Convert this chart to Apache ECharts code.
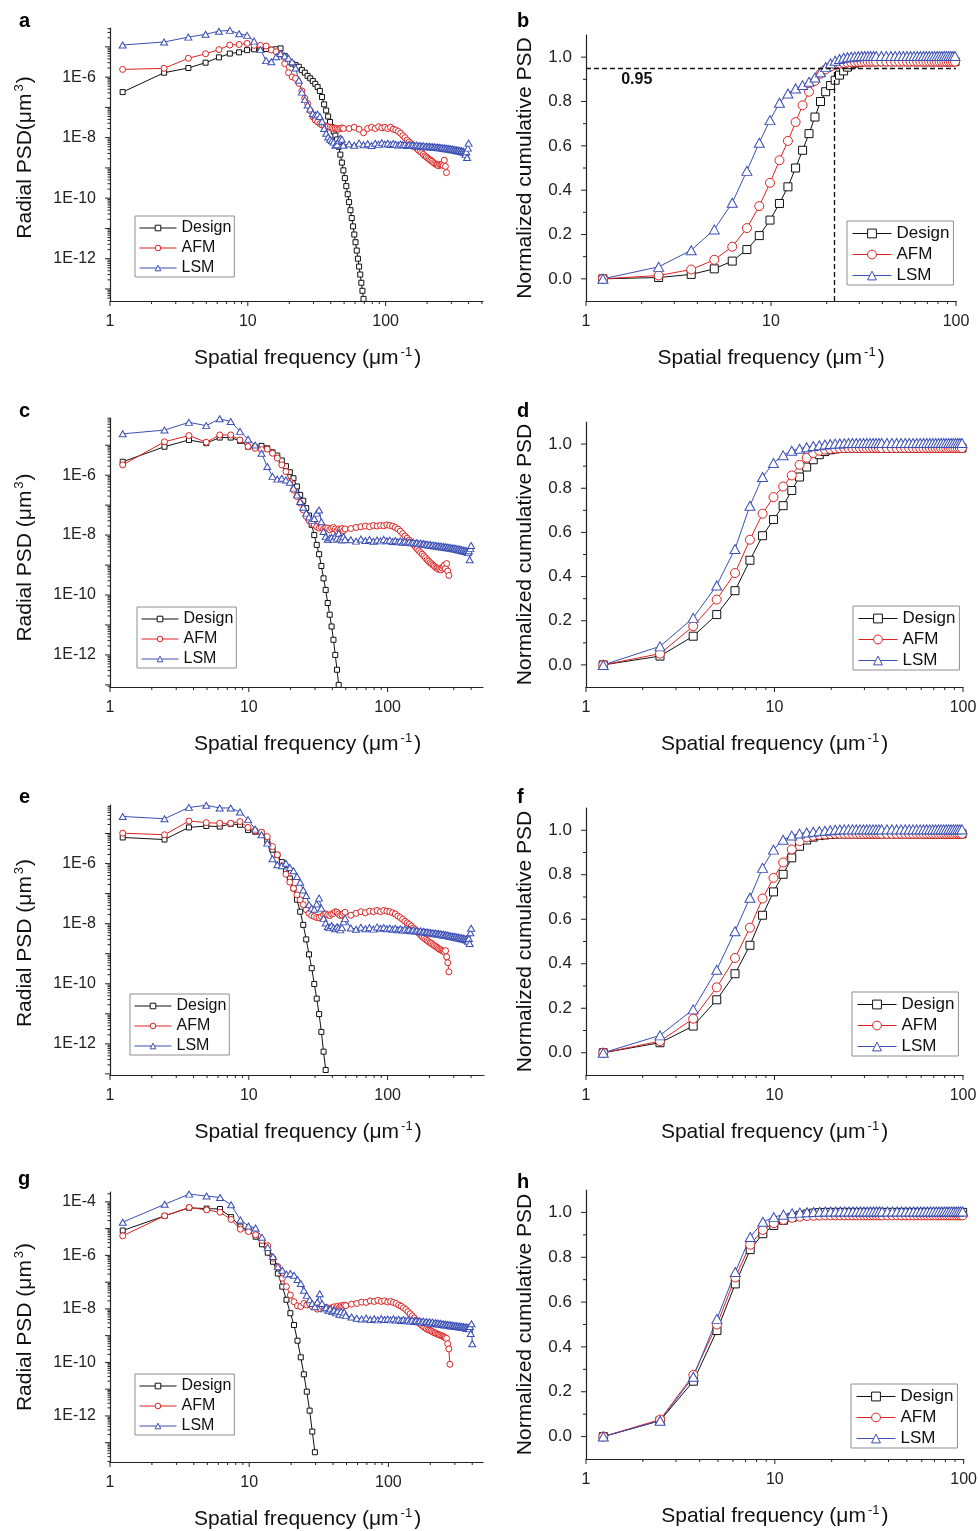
<!DOCTYPE html>
<html><head><meta charset="utf-8">
<script src="https://cdn.jsdelivr.net/npm/echarts@6/dist/echarts.min.js"></script>
<style>html,body{margin:0;padding:0;background:#fff}#chart{width:980px;height:1531px}</style>
</head><body><div id="chart"></div>
<script>
// frequency bin width (µm^-1); point k sits at k * STEP
const STEP = 1.2346;
const SERIES_NAMES = ['Design', 'AFM', 'LSM'];
const PANEL_LETTERS = ['a','b','c','d','e','f','g','h'];
const X_MAJOR = [1, 10, 100];
const MINOR_MULTS = [2, 3, 4, 5, 6, 7, 8, 9];
const Y_CUM_MAJOR = [0, 0.2, 0.4, 0.6, 0.8, 1.0];
const Y_CUM_MINOR = [0.1, 0.3, 0.5, 0.7, 0.9];

// ---------- Radial PSD (µm^3): bins 1..N (head), then every 4th bin from 44 (tail) ----------
const designA = [3.2e-7,1.4e-6,2.0e-6,3.0e-6,4.5e-6,6.0e-6,6.6e-6,7.8e-6,8.3e-6,8.5e-6,
 8.5e-6,8.1e-6,8.3e-6,8.9e-6,5.0e-6,3.2e-6,2.8e-6,2.5e-6,2.2e-6,1.7e-6,
 1.4e-6,1.1e-6,9.1e-7,7.4e-7,6.0e-7,4.7e-7,3.5e-7,2.2e-7,1.26e-7,7.9e-8,
 5.0e-8,3.3e-8,2.2e-8,1.6e-8,1.17e-8,8.7e-9,5.0e-9,2.75e-9,1.5e-9,8.3e-10,
 4.6e-10,2.5e-10,1.35e-10,7.4e-11,4.0e-11,2.2e-11,1.17e-11,6.3e-12,3.5e-12,1.86e-12,
 1.0e-12,5.5e-13,3.0e-13,1.6e-13,8.7e-14,4.7e-14];
const afmA = [1.8e-6,1.95e-6,4.2e-6,5.9e-6,8.1e-6,1.15e-5,1.2e-5,1.3e-5,1.12e-5,1.12e-5,
 1.07e-5,7.9e-6,6.9e-6,5.8e-6,2.8e-6,1.4e-6,1.02e-6,9.1e-7,6.2e-7,3.5e-7,
 2.0e-7,1.35e-7,7.8e-8,4.9e-8,3.8e-8,3.3e-8,2.9e-8,2.6e-8,2.5e-8,2.4e-8,
 2.3e-8,2.2e-8,2.1e-8,2.0e-8,2.05e-8,2.0e-8,1.9e-8,2.0e-8,2.1e-8,2.0e-8];
const afmATail = [2.0e-8,2.2e-8,1.9e-8,1.45e-8,2.0e-8,2.2e-8,2.0e-8,2.3e-8,2.1e-8,2.2e-8,
 2.0e-8,2.2e-8,1.9e-8,1.8e-8,1.6e-8,1.4e-8,1.17e-8,1.0e-8,8.3e-9,7.2e-9,
 6.3e-9,5.5e-9,4.9e-9,4.4e-9,3.9e-9,3.5e-9,3.2e-9,2.8e-9,2.5e-9,2.3e-9,
 2.1e-9,1.9e-9,1.8e-9,1.66e-9,1.5e-9,1.4e-9,1.3e-9,1.26e-9,1.17e-9,1.3e-9,
 1.26e-9,1.3e-9,1.2e-9,1.8e-9,1.12e-9,7.0e-10];
const lsmA = [1.15e-5,1.45e-5,2.1e-5,2.6e-5,3.3e-5,3.5e-5,2.7e-5,2.4e-5,1.55e-5,8.1e-6,
 3.5e-6,3.2e-6,4.7e-6,6.0e-6,5.0e-6,4.2e-6,3.2e-6,2.0e-6,7.9e-7,3.2e-7,
 1.8e-7,1.2e-7,8.9e-8,6.3e-8,5.6e-8,6.0e-8,5.0e-8,3.5e-8,2.0e-8,1.4e-8,
 1.05e-8,8.9e-9,7.9e-9,7.1e-9,5.6e-9,6.0e-9,7.9e-9,9.5e-9,8.9e-9,5.6e-9];
const lsmATail = [6.2e-9,5.6e-9,6.6e-9,5.8e-9,6.3e-9,5.5e-9,6.5e-9,6.0e-9,6.8e-9,6.1e-9,
 6.5e-9,5.9e-9,6.4e-9,6.0e-9,5.7e-9,6.2e-9,5.8e-9,6.0e-9,5.5e-9,5.9e-9,
 5.6e-9,5.8e-9,5.4e-9,5.7e-9,5.3e-9,5.5e-9,5.2e-9,5.4e-9,5.0e-9,5.3e-9,
 5.0e-9,5.2e-9,4.9e-9,5.1e-9,4.8e-9,5.0e-9,4.7e-9,4.9e-9,4.6e-9,4.8e-9,
 4.5e-9,4.7e-9,4.4e-9,4.6e-9,4.3e-9,4.5e-9,4.2e-9,4.4e-9,4.1e-9,4.3e-9,
 4.0e-9,4.2e-9,3.9e-9,4.1e-9,3.8e-9,4.0e-9,3.7e-9,3.9e-9,3.6e-9,3.8e-9,
 3.5e-9,3.7e-9,3.4e-9,3.6e-9,3.3e-9,3.2e-9,2.8e-9,3.4e-9,2.2e-9,4.5e-9,6.6e-9];

const designC = [2.8e-6,8.9e-6,1.5e-5,1.17e-5,1.8e-5,1.8e-5,1.4e-5,8.9e-6,8.5e-6,9.5e-6,
 7.9e-6,5.8e-6,4.5e-6,3.1e-6,2.0e-6,1.26e-6,7.9e-7,4.2e-7,2.2e-7,1.4e-7,
 7.9e-8,4.5e-8,2.2e-8,1.0e-8,4.7e-9,2.3e-9,9.3e-10,3.6e-10,1.48e-10,5.4e-11,
 2.2e-11,8.9e-12,3.2e-12,1.0e-12,3.2e-13,1.0e-13];
const afmC = [2.2e-6,1.3e-5,2.1e-5,1.26e-5,2.2e-5,2.2e-5,1.5e-5,9.1e-6,7.9e-6,7.1e-6,
 7.4e-6,5.4e-6,3.7e-6,2.2e-6,1.32e-6,6.2e-7,3.2e-7,1.95e-7,1.17e-7,6.9e-8,
 4.2e-8,3.1e-8,2.5e-8,2.2e-8,1.9e-8,1.7e-8,1.8e-8,1.6e-8,1.74e-8,1.7e-8,
 1.5e-8,1.66e-8,1.8e-8,1.6e-8,1.4e-8,1.6e-8,1.5e-8,1.66e-8,1.4e-8,1.6e-8];
const afmCTail = [1.66e-8,1.8e-8,1.9e-8,2.0e-8,1.9e-8,2.1e-8,2.0e-8,2.1e-8,2.05e-8,2.2e-8,
 2.1e-8,2.0e-8,1.8e-8,1.6e-8,1.35e-8,1.12e-8,9.3e-9,7.9e-9,6.8e-9,5.8e-9,
 4.9e-9,4.2e-9,3.5e-9,3.0e-9,2.6e-9,2.3e-9,2.0e-9,1.74e-9,1.5e-9,1.35e-9,
 1.2e-9,1.1e-9,1.0e-9,9.1e-10,8.3e-10,7.9e-10,7.2e-10,7.6e-10,6.9e-10,7.9e-10,
 8.9e-10,1.0e-9,7.6e-10,1.12e-9,6.3e-10,4.5e-10];
const lsmC = [2.4e-5,3.2e-5,5.8e-5,4.5e-5,7.6e-5,6.2e-5,2.9e-5,1.58e-5,1.02e-5,5.4e-6,
 1.95e-6,9.1e-7,7.4e-7,7.9e-7,6.9e-7,5.8e-7,3.7e-7,2.2e-7,1.32e-7,8.5e-8,
 5.4e-8,4.0e-8,3.1e-8,3.6e-8,5.4e-8,6.9e-8,2.8e-8,1.32e-8,8.9e-9,7.2e-9,
 7.9e-9,8.5e-9,7.2e-9,9.3e-9,7.9e-9,1.15e-8,7.9e-9,6.9e-9,8.9e-9,7.2e-9];
const lsmCTail = [7.0e-9,6.3e-9,7.4e-9,6.6e-9,7.1e-9,6.2e-9,6.9e-9,6.4e-9,7.2e-9,6.5e-9,
 6.8e-9,6.1e-9,6.6e-9,6.0e-9,6.4e-9,5.8e-9,6.2e-9,5.6e-9,6.0e-9,5.5e-9,
 5.8e-9,5.3e-9,5.6e-9,5.1e-9,5.4e-9,5.0e-9,5.2e-9,4.8e-9,5.0e-9,4.6e-9,
 4.9e-9,4.5e-9,4.7e-9,4.3e-9,4.6e-9,4.2e-9,4.4e-9,4.1e-9,4.3e-9,4.0e-9,
 4.2e-9,3.9e-9,4.1e-9,3.8e-9,4.0e-9,3.7e-9,3.9e-9,3.6e-9,3.8e-9,3.5e-9,
 3.7e-9,3.4e-9,3.6e-9,3.3e-9,3.5e-9,3.2e-9,3.4e-9,3.1e-9,3.3e-9,3.0e-9,
 3.2e-9,2.9e-9,3.1e-9,2.8e-9,3.0e-9,2.7e-9,2.6e-9,3.0e-9,1.5e-9,3.6e-9,4.5e-9];

const designE = [7.4e-6,6.3e-6,1.6e-5,1.78e-5,1.7e-5,2.1e-5,1.95e-5,1.3e-5,1.15e-5,1.07e-5,
 5.8e-6,2.9e-6,1.95e-6,1.12e-6,6.2e-7,3.2e-7,1.5e-7,6.3e-8,2.5e-8,9.1e-9,
 3.0e-9,9.5e-10,3.3e-10,9.8e-11,3.2e-11,9.8e-12,2.5e-12,5.5e-13,1.35e-13];
const afmE = [1.03e-5,9.1e-6,2.6e-5,2.3e-5,2.2e-5,2.2e-5,2.5e-5,1.6e-5,1.23e-5,1.1e-5,
 7.9e-6,3.7e-6,1.95e-6,8.4e-7,4.4e-7,2.4e-7,1.5e-7,9.1e-8,6.2e-8,4.3e-8,
 2.9e-8,2.2e-8,1.86e-8,1.74e-8,1.6e-8,1.6e-8,1.74e-8,1.95e-8,2.1e-8,1.95e-8,
 1.86e-8,2.1e-8,2.2e-8,2.5e-8,2.4e-8,2.1e-8,1.86e-8,1.95e-8,2.2e-8,2.4e-8];
const afmETail = [1.9e-8,2.2e-8,2.5e-8,2.3e-8,2.6e-8,2.5e-8,2.75e-8,2.5e-8,2.75e-8,2.6e-8,
 2.5e-8,2.3e-8,2.1e-8,1.8e-8,1.6e-8,1.4e-8,1.2e-8,1.07e-8,9.5e-9,8.3e-9,
 7.2e-9,6.3e-9,5.5e-9,4.8e-9,4.2e-9,3.7e-9,3.3e-9,3.0e-9,2.75e-9,2.5e-9,
 2.3e-9,2.2e-9,2.0e-9,1.86e-9,1.74e-9,1.62e-9,1.5e-9,1.4e-9,1.35e-9,1.26e-9,
 1.2e-9,1.12e-9,1.26e-9,7.9e-10,5.0e-10,2.5e-10];
const lsmE = [3.7e-5,3.1e-5,7.4e-5,8.7e-5,7.1e-5,7.1e-5,5.2e-5,2.9e-5,1.4e-5,9.1e-6,
 4.8e-6,1.45e-6,9.1e-7,8.5e-7,1.02e-6,7.4e-7,5.8e-7,3.7e-7,2.4e-7,1.32e-7,
 8.7e-8,4.3e-8,3.3e-8,3.0e-8,4.5e-8,7.1e-8,3.3e-8,1.5e-8,1.05e-8,7.9e-9,
 7.4e-9,8.7e-9,7.4e-9,6.8e-9,7.9e-9,7.1e-9,6.2e-9,7.4e-9,1.15e-8,1.5e-8];
const lsmETail = [7.2e-9,6.5e-9,7.6e-9,6.8e-9,7.4e-9,6.6e-9,7.8e-9,7.0e-9,7.5e-9,6.8e-9,
 7.2e-9,6.5e-9,7.0e-9,6.3e-9,6.8e-9,6.1e-9,6.6e-9,6.0e-9,6.4e-9,5.8e-9,
 6.2e-9,5.7e-9,6.0e-9,5.5e-9,5.8e-9,5.3e-9,5.6e-9,5.1e-9,5.4e-9,5.0e-9,
 5.2e-9,4.8e-9,5.0e-9,4.6e-9,4.9e-9,4.5e-9,4.7e-9,4.4e-9,4.6e-9,4.2e-9,
 4.5e-9,4.1e-9,4.3e-9,4.0e-9,4.2e-9,3.8e-9,4.0e-9,3.7e-9,3.9e-9,3.6e-9,
 3.8e-9,3.5e-9,3.7e-9,3.4e-9,3.6e-9,3.3e-9,3.5e-9,3.2e-9,3.4e-9,3.1e-9,
 3.3e-9,3.0e-9,3.2e-9,2.9e-9,3.1e-9,2.8e-9,2.6e-9,3.2e-9,2.2e-9,5.0e-9,7.0e-9];

const designG = [8.5e-6,3.0e-5,6.0e-5,5.6e-5,5.4e-5,2.7e-5,1.2e-5,8.3e-6,5.0e-6,2.6e-6,
 1.26e-6,5.8e-7,2.1e-7,6.8e-8,2.2e-8,6.9e-9,2.5e-9,6.5e-10,1.55e-10,3.6e-11,
 8.1e-12,1.58e-12,2.6e-13,4.4e-14];
const afmG = [5.4e-6,3.0e-5,6.2e-5,5.0e-5,4.1e-5,2.2e-5,9.5e-6,7.8e-6,5.9e-6,3.6e-6,
 2.3e-6,7.8e-7,3.8e-7,1.4e-7,6.8e-8,3.3e-8,1.86e-8,1.3e-8,1.23e-8,1.6e-8,
 1.4e-8,1.55e-8,1.23e-8,1.3e-8,9.8e-9,1.05e-8,1.23e-8,1.05e-8,1.15e-8,9.8e-9,
 1.05e-8,1.12e-8,1.2e-8,1.07e-8,1.26e-8,1.15e-8,1.32e-8,1.26e-8,1.4e-8,1.32e-8];
const afmGTail = [1.5e-8,1.6e-8,1.8e-8,1.74e-8,2.0e-8,1.9e-8,2.1e-8,1.9e-8,2.0e-8,1.8e-8,
 1.9e-8,1.74e-8,1.6e-8,1.4e-8,1.26e-8,1.1e-8,9.5e-9,7.9e-9,6.6e-9,5.5e-9,
 4.6e-9,3.8e-9,3.3e-9,2.8e-9,2.5e-9,2.2e-9,2.0e-9,1.8e-9,1.66e-9,1.6e-9,
 1.5e-9,1.4e-9,1.3e-9,1.26e-9,1.17e-9,1.12e-9,1.07e-9,1.02e-9,9.8e-10,9.3e-10,
 8.9e-10,8.3e-10,7.9e-10,5.0e-10,3.2e-10,8.5e-11];
const lsmG = [1.74e-5,8.1e-5,1.95e-4,1.66e-4,1.45e-4,7.8e-5,2.1e-5,1.26e-5,1.05e-5,4.8e-6,
 2.0e-6,9.1e-7,3.8e-7,2.8e-7,2.0e-7,2.1e-7,1.8e-7,1.26e-7,8.9e-8,5.0e-8,
 3.2e-8,2.2e-8,1.6e-8,1.2e-8,1.8e-8,3.7e-8,1.6e-8,1.0e-8,1.12e-8,8.9e-9,
 1.0e-8,7.9e-9,8.9e-9,7.1e-9,8.3e-9,6.3e-9,7.9e-9,6.0e-9,7.6e-9,5.6e-9];
const lsmGTail = [5.0e-9,4.5e-9,4.2e-9,4.6e-9,4.0e-9,4.3e-9,3.9e-9,4.4e-9,4.0e-9,4.2e-9,
 3.9e-9,4.3e-9,3.8e-9,4.1e-9,3.7e-9,4.0e-9,3.6e-9,3.9e-9,3.5e-9,3.8e-9,
 3.4e-9,3.7e-9,3.3e-9,3.6e-9,3.2e-9,3.5e-9,3.1e-9,3.4e-9,3.0e-9,3.3e-9,
 2.9e-9,3.2e-9,2.8e-9,3.1e-9,2.8e-9,3.0e-9,2.7e-9,2.9e-9,2.6e-9,2.8e-9,
 2.5e-9,2.7e-9,2.5e-9,2.6e-9,2.4e-9,2.6e-9,2.3e-9,2.5e-9,2.3e-9,2.4e-9,
 2.2e-9,2.4e-9,2.2e-9,2.3e-9,2.1e-9,2.3e-9,2.1e-9,2.2e-9,2.0e-9,2.2e-9,
 2.0e-9,2.1e-9,1.9e-9,2.1e-9,1.9e-9,2.0e-9,1.8e-9,2.2e-9,1.2e-9,2.8e-9,5.0e-10];

// ---------- Normalized cumulative PSD: bins 1..30 (head), then every 2nd bin from 32 (tail) ----------
const designB = [0,0.006,0.02,0.045,0.08,0.132,0.195,0.265,0.34,0.415,0.5,0.58,0.655,0.73,0.8,0.844,0.872,0.896,0.919,0.938,0.955,0.966,0.973,0.977,0.979,0.98,0.98,0.98,0.98,0.98];
const designBTail = [0.98,0.98,0.98,0.98,0.98,0.98,0.98,0.98,0.98,0.98,0.98,0.98,0.98,0.98,0.98,0.98,0.98,0.98,0.98,0.98,0.98,0.98,0.98,0.98,0.98];
const afmB = [0,0.015,0.042,0.086,0.145,0.229,0.328,0.433,0.535,0.622,0.707,0.783,0.844,0.893,0.925,0.945,0.958,0.966,0.971,0.974,0.976,0.977,0.978,0.979,0.979,0.98,0.98,0.98,0.98,0.98];
const afmBTail = [0.98,0.98,0.98,0.98,0.98,0.98,0.98,0.98,0.98,0.98,0.98,0.98,0.98,0.98,0.98,0.98,0.98,0.98,0.98,0.98,0.98,0.98,0.98,0.98,0.98];
const lsmB = [0,0.054,0.129,0.223,0.343,0.487,0.614,0.716,0.794,0.836,0.859,0.874,0.889,0.908,0.932,0.955,0.972,0.984,0.992,0.997,1.0,1.002,1.003,1.004,1.005,1.005,1.005,1.005,1.005,1.005];
const lsmBTail = [1.005,1.005,1.005,1.005,1.005,1.005,1.005,1.005,1.005,1.005,1.005,1.005,1.005,1.005,1.005,1.005,1.005,1.005,1.005,1.005,1.005,1.005,1.005,1.005,1.005];

const designD = [0,0.04,0.13,0.228,0.336,0.474,0.585,0.658,0.721,0.79,0.851,0.896,0.929,0.952,0.966,0.974,0.978,0.98,0.981,0.982,0.982,0.982,0.982,0.982,0.982,0.982,0.982,0.982,0.982,0.982];
const designDTail = [0.982,0.982,0.982,0.982,0.982,0.982,0.982,0.982,0.982,0.982,0.982,0.982,0.982,0.982,0.982,0.982,0.982,0.982,0.982,0.982,0.982,0.982,0.982,0.982,0.982];
const afmD = [0,0.051,0.175,0.296,0.416,0.567,0.685,0.76,0.808,0.858,0.906,0.938,0.959,0.97,0.975,0.978,0.98,0.981,0.982,0.982,0.982,0.982,0.982,0.982,0.982,0.982,0.982,0.982,0.982,0.982];
const afmDTail = [0.982,0.982,0.982,0.982,0.982,0.982,0.982,0.982,0.982,0.982,0.982,0.982,0.982,0.982,0.982,0.982,0.982,0.982,0.982,0.982,0.982,0.982,0.982,0.982,0.982];
const lsmD = [0,0.084,0.213,0.36,0.525,0.721,0.851,0.914,0.949,0.97,0.979,0.986,0.991,0.995,0.998,1.0,1.002,1.003,1.004,1.005,1.005,1.005,1.005,1.005,1.005,1.005,1.005,1.005,1.005,1.005];
const lsmDTail = [1.005,1.005,1.005,1.005,1.005,1.005,1.005,1.005,1.005,1.005,1.005,1.005,1.005,1.005,1.005,1.005,1.005,1.005,1.005,1.005,1.005,1.005,1.005,1.005,1.005];

const designF = [0,0.045,0.12,0.238,0.355,0.483,0.618,0.723,0.802,0.876,0.928,0.956,0.969,0.976,0.979,0.981,0.983,0.984,0.984,0.984,0.984,0.984,0.984,0.984,0.984,0.984,0.984,0.984,0.984,0.984];
const designFTail = [0.984,0.984,0.984,0.984,0.984,0.984,0.984,0.984,0.984,0.984,0.984,0.984,0.984,0.984,0.984,0.984,0.984,0.984,0.984,0.984,0.984,0.984,0.984,0.984,0.984];
const afmF = [0,0.052,0.153,0.294,0.426,0.562,0.693,0.786,0.855,0.914,0.951,0.968,0.975,0.979,0.981,0.983,0.984,0.984,0.984,0.984,0.984,0.984,0.984,0.984,0.984,0.984,0.984,0.984,0.984,0.984];
const afmFTail = [0.984,0.984,0.984,0.984,0.984,0.984,0.984,0.984,0.984,0.984,0.984,0.984,0.984,0.984,0.984,0.984,0.984,0.984,0.984,0.984,0.984,0.984,0.984,0.984,0.984];
const lsmF = [0,0.078,0.195,0.373,0.546,0.697,0.831,0.913,0.957,0.976,0.985,0.99,0.993,0.996,0.998,1.0,1.002,1.003,1.004,1.004,1.004,1.004,1.004,1.004,1.004,1.004,1.004,1.004,1.004,1.004];
const lsmFTail = [1.004,1.004,1.004,1.004,1.004,1.004,1.004,1.004,1.004,1.004,1.004,1.004,1.004,1.004,1.004,1.004,1.004,1.004,1.004,1.004,1.004,1.004,1.004,1.004,1.004];

const designH = [0,0.071,0.247,0.473,0.681,0.834,0.905,0.942,0.965,0.978,0.987,0.993,0.997,0.999,1.0,1.0,1.0,1.0,1.0,1.0,1.0,1.0,1.0,1.0,1.0,1.0,1.0,1.0,1.0,1.0];
const designHTail = [1.0,1.0,1.0,1.0,1.0,1.0,1.0,1.0,1.0,1.0,1.0,1.0,1.0,1.0,1.0,1.0,1.0,1.0,1.0,1.0,1.0,1.0,1.0,1.0,1.0];
const afmH = [0,0.076,0.275,0.5,0.71,0.856,0.922,0.952,0.967,0.976,0.981,0.984,0.985,0.986,0.987,0.987,0.987,0.987,0.987,0.987,0.987,0.987,0.987,0.987,0.987,0.987,0.987,0.987,0.987,0.987];
const afmHTail = [0.987,0.987,0.987,0.987,0.987,0.987,0.987,0.987,0.987,0.987,0.987,0.987,0.987,0.987,0.987,0.987,0.987,0.987,0.987,0.987,0.987,0.987,0.987,0.987,0.987];
const lsmH = [0,0.071,0.267,0.525,0.734,0.89,0.958,0.979,0.99,0.996,0.999,1.001,1.002,1.003,1.004,1.004,1.004,1.004,1.004,1.004,1.004,1.004,1.004,1.004,1.004,1.004,1.004,1.004,1.004,1.004];
const lsmHTail = [1.004,1.004,1.004,1.004,1.004,1.004,1.004,1.004,1.004,1.004,1.004,1.004,1.004,1.004,1.004,1.004,1.004,1.004,1.004,1.004,1.004,1.004,1.004,1.004,1.004];

// threshold annotation in panel b
const THRESH_Y = 0.95;
const THRESH_X = 22;

// ---------------- build ----------------
const FONT = "'Liberation Sans', Arial, Helvetica, sans-serif";
const COL = { design: '#111111', afm: '#dc2323', lsm: '#3b4fb4' };
const AX = '#222';

function bins(head, tail, tailStart, stride) {
  const out = head.map((v, i) => [(i + 1) * STEP, v]);
  (tail || []).forEach((v, i) => out.push([(tailStart + i * stride) * STEP, v]));
  return out;
}
function logMinor(lo, hi) {
  const out = [];
  for (let e = Math.floor(Math.log10(lo)); e <= Math.ceil(Math.log10(hi)); e++) {
    MINOR_MULTS.forEach(m => { const v = m * Math.pow(10, e); if (v > lo && v < hi) out.push(v); });
  }
  return out;
}
function logMajor(lo, hi) {
  const out = [];
  for (let e = Math.ceil(Math.log10(lo) - 1e-9); e <= Math.floor(Math.log10(hi) + 1e-9); e++) out.push(Math.pow(10, e));
  return out;
}
function fmtLogY(v) {
  if (!(v > 0)) return '';
  const e = Math.log10(v), r = Math.round(e);
  if (Math.abs(e - r) > 1e-3 || r % 2 !== 0) return '';
  return '1E' + r;
}
function fmtLogX(v) {
  if (!(v > 0)) return '';
  const e = Math.log10(v), r = Math.round(e);
  if (Math.abs(e - r) > 1e-3) return '';
  return String(Math.round(Math.pow(10, r)));
}
function fmtCum(v) {
  const t = Math.round(v * 10);
  return (t % 2 === 0 && t >= 0 && t <= 10) ? (t / 10).toFixed(1) : '';
}

const PANELS = [
  { kind:'psd', grid:{left:110,top:28,width:373,height:273}, xMax:509, yMin:4.0e-14, yMax:4.2e-5,
    s:[bins(designA), bins(afmA, afmATail, 44, 4), bins(lsmA, lsmATail, 44, 4)],
    legend:{left:135, top:216}, letter:{left:19, top:11}, yName:'Radial PSD(μm', yPad:[0,0,0,14] },
  { kind:'cum', grid:{left:586,top:35,width:370,height:266},
    s:[bins(designB, designBTail, 32, 2), bins(afmB, afmBTail, 32, 2), bins(lsmB, lsmBTail, 32, 2)],
    legend:{left:847, top:221}, letter:{left:517, top:11}, thresh:true },
  { kind:'psd', grid:{left:110,top:418,width:373,height:269}, xMax:487, yMin:8.5e-14, yMax:8.1e-5,
    s:[bins(designC), bins(afmC, afmCTail, 44, 4), bins(lsmC, lsmCTail, 44, 4)],
    legend:{left:137, top:607}, letter:{left:19, top:401}, yName:'Radial PSD (μm', yPad:[0,10,0,0] },
  { kind:'cum', grid:{left:586,top:422,width:377,height:265},
    s:[bins(designD, designDTail, 32, 2), bins(afmD, afmDTail, 32, 2), bins(lsmD, lsmDTail, 32, 2)],
    legend:{left:853, top:606}, letter:{left:517, top:401} },
  { kind:'psd', grid:{left:110,top:805,width:374,height:270}, xMax:495, yMin:9.2e-14, yMax:8.9e-5,
    s:[bins(designE), bins(afmE, afmETail, 44, 4), bins(lsmE, lsmETail, 44, 4)],
    legend:{left:130, top:994}, letter:{left:19, top:787}, yName:'Radial PSD (μm', yPad:[0,6,0,0] },
  { kind:'cum', grid:{left:586,top:808,width:377,height:267},
    s:[bins(designF, designFTail, 32, 2), bins(afmF, afmFTail, 32, 2), bins(lsmF, lsmFTail, 32, 2)],
    legend:{left:852, top:992}, letter:{left:517, top:787} },
  { kind:'psd', grid:{left:110,top:1192,width:373,height:270}, xMax:478, yMin:1.9e-14, yMax:2.34e-4,
    s:[bins(designG), bins(afmG, afmGTail, 44, 4), bins(lsmG, lsmGTail, 44, 4)],
    legend:{left:135, top:1374}, letter:{left:18, top:1169}, yName:'Radial PSD (μm', yPad:[0,0,0,0] },
  { kind:'cum', grid:{left:586,top:1190,width:378,height:269},
    s:[bins(designH, designHTail, 32, 2), bins(afmH, afmHTail, 32, 2), bins(lsmH, lsmHTail, 32, 2)],
    legend:{left:851, top:1384}, letter:{left:517, top:1172} }
];

const option = { animation:false, backgroundColor:'#fff', title:[], grid:[], xAxis:[], yAxis:[], legend:[], series:[] };
const KINDS = ['design','afm','lsm'];
const SYM = { design:'rect', afm:'circle', lsm:'triangle' };

PANELS.forEach((p, gi) => {
  const psd = p.kind === 'psd';
  const big = !psd;
  option.grid.push(Object.assign({ containLabel:false }, p.grid));
  option.title.push({ text: PANEL_LETTERS[gi], left: p.letter.left, top: p.letter.top, padding: 0,
    textStyle: { fontFamily: FONT, fontSize: 20, fontWeight: 'bold', color: '#000' } });

  const xMax = psd ? p.xMax : 100;
  option.xAxis.push({
    gridIndex: gi, type:'log', logBase:10, min:1, max:xMax,
    axisLine:{ show:true, onZero:false, lineStyle:{ color:AX, width:1.2 } },
    axisTick:{ show:false }, splitLine:{ show:false }, minorTick:{ show:false },
    axisLabel:{ formatter: fmtLogX, fontFamily: FONT, fontSize:16, color:'#222', margin:13 },
    name: '{t|Spatial frequency (μm}{s|-1}{t|)}', nameLocation:'middle', nameGap:45,
    nameTextStyle:{ fontFamily: FONT, color:'#111', padding: psd ? [0,0,0,22] : 0,
      rich:{ t:{ fontFamily: FONT, fontSize:21, lineHeight:24, color:'#111' },
             s:{ fontFamily: FONT, fontSize:13, lineHeight:13, verticalAlign:'top', color:'#111', padding:[0,2,0,2] } } }
  });
  if (psd) {
    option.yAxis.push({
      gridIndex: gi, type:'log', logBase:10, min:p.yMin, max:p.yMax,
      axisLine:{ show:true, onZero:false, lineStyle:{ color:AX, width:1.2 } },
      axisTick:{ show:false }, splitLine:{ show:false },
      axisLabel:{ show:false },
      name: '{t|' + p.yName + '}{s|3}{t|)}', nameLocation:'middle', nameGap:73,
      nameTextStyle:{ fontFamily: FONT, color:'#111', padding: p.yPad,
        rich:{ t:{ fontFamily: FONT, fontSize:21, lineHeight:24, color:'#111' },
               s:{ fontFamily: FONT, fontSize:13, lineHeight:13, verticalAlign:'top', color:'#111', padding:[0,1,0,2] } } }
    });
  } else {
    option.yAxis.push({
      gridIndex: gi, type:'value', min:-0.1, max:1.1, interval:0.1,
      axisLine:{ show:true, onZero:false, lineStyle:{ color:AX, width:1.2 } },
      axisTick:{ show:false }, splitLine:{ show:false },
      axisLabel:{ formatter: fmtCum, fontFamily: FONT, fontSize:17, color:'#222', margin:14 },
      name: 'Normalized cumulative PSD', nameLocation:'middle', nameGap:50,
      nameTextStyle:{ fontFamily: FONT, fontSize:21, color:'#111' }
    });
  }

  option.legend.push({
    data: SERIES_NAMES.slice(), orient:'vertical', left:p.legend.left, top:p.legend.top,
    padding: big ? [4,4,1,5] : [4,3,1,4], itemGap:4, itemWidth: big ? 39 : 37, itemHeight: big ? 11 : 7,
    selectedMode:false, backgroundColor:'#fff', borderColor:'#8f8f8f', borderWidth:1, borderRadius:0,
    textStyle:{ fontFamily: FONT, fontSize: big ? 17 : 16, lineHeight: big ? 17 : 16, color:'#111' },
    itemStyle:{ borderWidth:1 }, lineStyle:{ width:1 }
  });

  KINDS.forEach((k, si) => {
    const sz = big ? { design:8, afm:9, lsm:[10,9] }[k] : { design:5, afm:6, lsm:[7,6] }[k];
    const ser = {
      type:'line', name: SERIES_NAMES[si], xAxisIndex:gi, yAxisIndex:gi, data: p.s[si],
      symbol: SYM[k], symbolSize: sz, showSymbol:true, showAllSymbol:true,
      lineStyle:{ color: COL[k], width:1 },
      itemStyle:{ color:'#fff', borderColor: COL[k], borderWidth:1 },
      emphasis:{ disabled:true }, silent:true, animation:false, z:2
    };
    if (p.thresh && k === 'design') {
      ser.markLine = { silent:true, symbol:['none','none'], animation:false, label:{ show:false },
        lineStyle:{ color:'#111', width:1.3, type:[5,3] },
        data:[ [ { coord:[1, THRESH_Y] }, { coord:[100, THRESH_Y] } ],
               [ { coord:[THRESH_X, -0.1] }, { coord:[THRESH_X, THRESH_Y] } ] ] };
      ser.markPoint = { silent:true, animation:false,
        data:[ { coord:[1.88, 0.9], symbol:'circle', symbolSize:1, itemStyle:{ color:'rgba(0,0,0,0)' },
          label:{ show:true, position:'inside', formatter: String(THRESH_Y), fontFamily: FONT, fontWeight:'bold', fontSize:16, color:'#111' } } ] };
    }
    option.series.push(ser);
  });

  // axis tick marks (major + log-spaced minor) and log-axis labels, placed through the axes' own scales
  // item: [x, y, tickLength, direction (0 = x axis, 1 = y axis), withLabel]
  const yLo = psd ? p.yMin : -0.1;
  const ticks = [];
  X_MAJOR.filter(v => v <= xMax).forEach(v => ticks.push([v, yLo, 5, 0, 0]));
  logMinor(1, xMax).forEach(v => ticks.push([v, yLo, 3, 0, 0]));
  if (psd) {
    logMajor(p.yMin, p.yMax).forEach(v => ticks.push([1, v, 5, 1, fmtLogY(v) ? 1 : 0]));
    logMinor(p.yMin, p.yMax).forEach(v => ticks.push([1, v, 2.5, 1, 0]));
  } else {
    Y_CUM_MAJOR.forEach(v => ticks.push([1, v, 5, 1, 0]));
    Y_CUM_MINOR.forEach(v => ticks.push([1, v, 3, 1, 0]));
  }
  option.series.push({
    type:'custom', xAxisIndex:gi, yAxisIndex:gi, silent:true, clip:false, animation:false, z:3,
    dimensions:['x','y','len','dir','lab'], encode:{ x:0, y:1 }, data: ticks,
    renderItem: (params, api) => {
      const xv = api.value(0), yv = api.value(1);
      const pt = api.coord([xv, yv]);
      const len = api.value(2), dir = api.value(3), lab = api.value(4);
      const shape = dir === 0 ? { x1:pt[0], y1:pt[1], x2:pt[0], y2:pt[1] + len }
                              : { x1:pt[0] - len, y1:pt[1], x2:pt[0], y2:pt[1] };
      const children = [{ type:'line', shape, style:{ stroke:AX, lineWidth:1 } }];
      if (lab) {
        children.push({ type:'text', style:{ text: fmtLogY(yv), x: pt[0] - 14, y: pt[1],
          align:'right', verticalAlign:'middle', fill:'#222', fontSize:16, fontFamily: FONT } });
      }
      return { type:'group', children };
    }
  });
});

const chart = echarts.init(document.getElementById('chart'), null, { renderer:'canvas', width:980, height:1531 });
chart.setOption(option);
</script></body></html>
